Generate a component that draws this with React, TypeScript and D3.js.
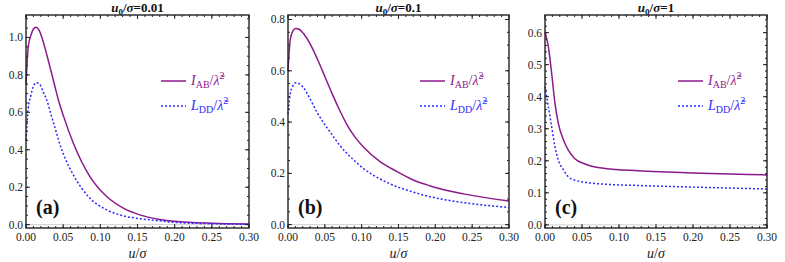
import React from 'react';
import * as d3 from 'd3';

// values, per panel
const uA = [0, 0.003, 0.0065, 0.01, 0.0135, 0.018, 0.023, 0.0278, 0.035, 0.041, 0.0435, 0.05, 0.0637, 0.086, 0.1086, 0.131, 0.153, 0.178, 0.2, 0.25, 0.3];
const iabA = [0.75, 0.95, 1.01, 1.045, 1.055, 1.035, 0.98, 0.91, 0.80, 0.705, 0.667, 0.585, 0.435, 0.257, 0.15, 0.088, 0.052, 0.029, 0.018, 0.007, 0.003];
const lddA = [0.45, 0.62, 0.69, 0.74, 0.758, 0.752, 0.71, 0.667, 0.57, 0.49, 0.455, 0.38, 0.266, 0.141, 0.079, 0.0465, 0.032, 0.021, 0.012, 0.005, 0.002];

const uB = [0, 0.003, 0.0065, 0.0104, 0.015, 0.021, 0.03, 0.04, 0.05, 0.06, 0.07, 0.08, 0.09, 0.102, 0.125, 0.148, 0.17, 0.193, 0.238, 0.3];
const iabB = [0.6, 0.72, 0.755, 0.765, 0.762, 0.745, 0.705, 0.645, 0.578, 0.51, 0.447, 0.39, 0.345, 0.304, 0.246, 0.207, 0.174, 0.151, 0.12, 0.092];
const lddB = [0.43, 0.51, 0.54, 0.553, 0.55, 0.535, 0.49, 0.435, 0.39, 0.35, 0.31, 0.278, 0.25, 0.22, 0.178, 0.148, 0.127, 0.109, 0.086, 0.067];

const uC = [0, 0.0045, 0.009, 0.0135, 0.018, 0.025, 0.0315, 0.04, 0.054, 0.081, 0.126, 0.167, 0.2, 0.25, 0.3];
const iabC = [0.603, 0.556, 0.473, 0.379, 0.317, 0.265, 0.233, 0.207, 0.19, 0.176, 0.169, 0.165, 0.162, 0.159, 0.156];
const lddC = [0.431, 0.369, 0.306, 0.244, 0.202, 0.171, 0.15, 0.14, 0.133, 0.127, 0.123, 0.12, 0.118, 0.115, 0.112];

const xTicks = [0, 0.05, 0.1, 0.15, 0.2, 0.25, 0.3];
const xTickLabels = ['0.00', '0.05', '0.10', '0.15', '0.20', '0.25', '0.30'];
const yTicksAB = [0, 0.2, 0.4, 0.6, 0.8, 1.0];
const yTicksC = [0, 0.1, 0.2, 0.3, 0.4, 0.5, 0.6];

const titles = ['0.01', '0.1', '1'];
const panelLabels = ['(a)', '(b)', '(c)'];

const purple = '#8b1a8b';
const blue = '#2b2bff';
const serif = 'Liberation Serif, Times New Roman, DejaVu Serif, serif';

interface PanelProps {
  left: number;
  right: number;
  yDomain: [number, number];
  yTicks: number[];
  yMinorStep: number;
  u: number[];
  iab: number[];
  ldd: number[];
  title: string;
  label: string;
  legendX: number;
}

// legend label like I_AB / λ̃²
const LegendLabel: React.FC<{ x: number; y: number; letter: string; sub: string; color: string }> = ({ x, y, letter, sub, color }) => (
  <text x={x} y={y} fontSize={14} fontFamily={serif} fill={color}>
    <tspan fontStyle="italic">{letter}</tspan>
    <tspan fontSize={10} dy={3}>{sub}</tspan>
    <tspan dy={-3}>/</tspan>
    <tspan fontStyle="italic">{'λ\u0303'}</tspan>
    <tspan fontSize={10} dy={-6}>2</tspan>
  </text>
);

const Panel: React.FC<PanelProps> = ({ left, right, yDomain, yTicks, yMinorStep, u, iab, ldd, title, label, legendX }) => {
  const top = 15;
  const bottom = 228;
  const x = d3.scaleLinear().domain([0, 0.3]).range([left, right]);
  const y = d3.scaleLinear().domain(yDomain).range([bottom, top]);

  const line = d3.line<number>()
    .x((_, i) => x(u[i]))
    .y(d => y(d))
    .curve(d3.curveMonotoneX);

  const xMinor = d3.range(0, 0.3001, 0.01);
  const yMinor = d3.range(0, yDomain[1], yMinorStep);
  const cx = (left + right) / 2;

  return (
    <g>
      <defs>
        <clipPath id={`clip-${label}`}>
          <rect x={left} y={top} width={right - left} height={bottom - top} />
        </clipPath>
      </defs>
      {/* y = 0 axis */}
      <line x1={left} x2={right} y1={y(0)} y2={y(0)} stroke="#cfcfcf" strokeWidth={1} />

      <g clipPath={`url(#clip-${label})`}>
        <path d={line(iab) || ''} fill="none" stroke={purple} strokeWidth={1.5} />
        <path d={line(ldd) || ''} fill="none" stroke={blue} strokeWidth={1.5} strokeDasharray="2,2" />
      </g>

      {/* ticks */}
      {xMinor.map((t, i) => (
        <g key={`xm${i}`}>
          <line x1={x(t)} x2={x(t)} y1={bottom} y2={bottom - 2} stroke="#222" />
          <line x1={x(t)} x2={x(t)} y1={top} y2={top + 2} stroke="#222" />
        </g>
      ))}
      {xTicks.map((t, i) => (
        <g key={`x${i}`}>
          <line x1={x(t)} x2={x(t)} y1={bottom} y2={bottom - 4} stroke="#222" />
          <line x1={x(t)} x2={x(t)} y1={top} y2={top + 4} stroke="#222" />
          <text x={x(t)} y={241} textAnchor="middle" fontSize={11.5} fontFamily={serif} fill="#222">{xTickLabels[i]}</text>
        </g>
      ))}
      {yMinor.map((t, i) => (
        <g key={`ym${i}`}>
          <line x1={left} x2={left + 2} y1={y(t)} y2={y(t)} stroke="#222" />
          <line x1={right} x2={right - 2} y1={y(t)} y2={y(t)} stroke="#222" />
        </g>
      ))}
      {yTicks.map((t, i) => (
        <g key={`y${i}`}>
          <line x1={left} x2={left + 4} y1={y(t)} y2={y(t)} stroke="#222" />
          <line x1={right} x2={right - 4} y1={y(t)} y2={y(t)} stroke="#222" />
          <text x={left - 3} y={y(t) + 4} textAnchor="end" fontSize={11.5} fontFamily={serif} fill="#222">{t.toFixed(1)}</text>
        </g>
      ))}

      <rect x={left} y={top} width={right - left} height={bottom - top} fill="none" stroke="#222" strokeWidth={1.4} />

      {/* title */}
      <text x={cx} y={12} textAnchor="middle" fontSize={13} fontWeight="bold" fontFamily={serif} fill="#111">
        <tspan fontStyle="italic">u</tspan>
        <tspan fontSize={9} dy={3}>0</tspan>
        <tspan dy={-3}>/</tspan>
        <tspan fontStyle="italic">σ</tspan>
        <tspan>={title}</tspan>
      </text>

      {/* axis label */}
      <text x={cx} y={258} textAnchor="middle" fontSize={14} fontFamily={serif} fill="#222">
        <tspan fontStyle="italic">u</tspan>
        <tspan>/</tspan>
        <tspan fontStyle="italic">σ</tspan>
      </text>

      {/* panel label */}
      <text x={left + 10} y={214} fontSize={20} fontWeight="bold" fontFamily={serif} fill="#111">{label}</text>

      {/* legend */}
      <line x1={legendX} x2={legendX + 25} y1={81} y2={81} stroke={purple} strokeWidth={1.5} />
      <LegendLabel x={legendX + 30} y={85} letter="I" sub="AB" color={purple} />
      <line x1={legendX} x2={legendX + 25} y1={106} y2={106} stroke={blue} strokeWidth={1.5} strokeDasharray="2,2" />
      <LegendLabel x={legendX + 30} y={110} letter="L" sub="DD" color={blue} />
    </g>
  );
};

export default function App() {
  return (
    <svg width={785} height={262} style={{ position: 'absolute', left: 0, top: 0, background: '#fff' }}>
      <Panel left={26} right={249} yDomain={[-0.018, 1.12]} yTicks={yTicksAB} yMinorStep={0.05}
        u={uA} iab={iabA} ldd={lddA} title={titles[0]} label={panelLabels[0]} legendX={161} />
      <Panel left={288} right={509} yDomain={[-0.013, 0.8175]} yTicks={yTicksAB.slice(0, 5)} yMinorStep={0.05}
        u={uB} iab={iabB} ldd={lddB} title={titles[1]} label={panelLabels[1]} legendX={420} />
      <Panel left={545} right={767} yDomain={[-0.0097, 0.655]} yTicks={yTicksC} yMinorStep={0.02}
        u={uC} iab={iabC} ldd={lddC} title={titles[2]} label={panelLabels[2]} legendX={678} />
    </svg>
  );
}
